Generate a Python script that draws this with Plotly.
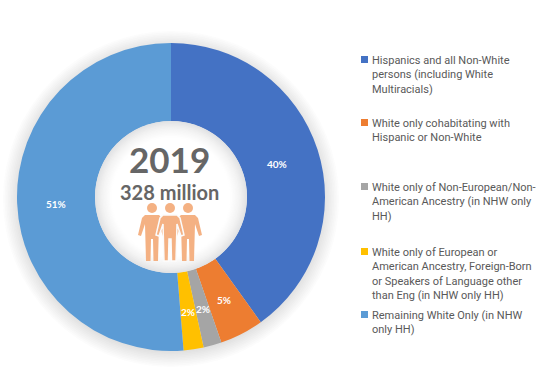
import plotly.graph_objects as go

W, H = 549, 388
categories = [
    "Hispanics and all Non-White persons (including White Multiracials)",
    "White only cohabitating with Hispanic or Non-White",
    "White only of Non-European/Non-American Ancestry (in NHW only HH)",
    "White only of European or American Ancestry, Foreign-Born or Speakers of Language other than Eng (in NHW only HH)",
    "Remaining White Only (in NHW only HH)",
]
values = [40.1, 4.6, 1.9, 2.1, 51.3]
colors = ["#4472C4", "#ED7D31", "#A5A5A5", "#FFC000", "#5B9BD5"]
value_labels = ["40%", "5%", "2%", "2%", "51%"]
legend_lines = [
    "Hispanics and all Non-White<br>persons (including White<br>Multiracials)",
    "White only cohabitating with<br>Hispanic or Non-White",
    "White only of Non-European/Non-<br>American Ancestry (in NHW only<br>HH)",
    "White only of European or<br>American Ancestry, Foreign-Born<br>or Speakers of Language other<br>than Eng (in NHW only HH)",
    "Remaining White Only (in NHW<br>only HH)",
]
legend_first_y = [60, 123, 187, 252, 315]
label_pos = [(277, 164), (224, 300), (203, 309), (188, 312), (56, 204)]

CX, CY, R, HOLE = 171, 197, 154, 76
FONT = "Lato, 'Open Sans', sans-serif"
LEG_FONT = "Roboto, 'Open Sans', sans-serif"
px = lambda x: x / W
py = lambda y: 1 - y / H

fig = go.Figure(go.Pie(
    labels=categories, values=values, hole=HOLE / R, sort=False,
    direction="clockwise", rotation=0, textinfo="none",
    marker=dict(colors=colors, line=dict(width=0)), showlegend=False,
    domain=dict(x=[px(CX - R), px(CX + R)], y=[py(CY + R), py(CY - R)]),
))

shapes, ann = [], []

def circle(cx, cy, r, color, layer="above"):
    shapes.append(dict(type="circle", xref="paper", yref="paper", layer=layer,
                       x0=px(cx - r), x1=px(cx + r), y0=py(cy + r), y1=py(cy - r),
                       fillcolor=color, line=dict(width=0)))

# soft shadow around the ring
for i in range(10):
    circle(CX, CY + 2, R + 14 - i * 1.6, "rgba(110,110,110,0.018)", "below")

# softly shaded hole
for i, c in enumerate(["#e2e3e5", "#e6e7e8", "#eaeaeb", "#eeeeee", "#f1f1f1", "#f4f4f4",
                       "#f6f6f6", "#f8f8f8", "#fafafa", "#fcfcfc", "#fefefe", "#ffffff"]):
    circle(CX, CY, HOLE - i * 1.5, c)

# people icon
BODY = "#F4B183"
def person(cx, top, outline=None):
    circle(cx, top + 5, 5, BODY)
    pts = [(-7, 12), (7, 12), (10, 15), (14, 32), (11, 33), (7, 21), (6, 58), (1.5, 58), (1, 36),
           (-1, 36), (-1.5, 58), (-6, 58), (-7, 21), (-11, 33), (-14, 32), (-10, 15)]
    d = "M " + " L ".join(f"{px(cx + x):.5f},{py(top + y):.5f}" for x, y in pts) + " Z"
    shapes.append(dict(type="path", xref="paper", yref="paper", path=d, fillcolor=BODY,
                       line=dict(width=1.5 if outline else 0, color=outline or BODY), layer="above"))

person(152, 203)
person(188, 203)
person(170, 203, outline="#fbfbfb")

ann.append(dict(x=px(CX - 2), y=py(159), text="<b>2019</b>", font=dict(size=35, color="#666666", family=FONT)))
ann.append(dict(x=px(CX - 2), y=py(192), text="<b>328 million</b>", font=dict(size=20, color="#666666", family=FONT)))

for t, (x, y) in zip(value_labels, label_pos):
    ann.append(dict(x=px(x), y=py(y), text=f"<b>{t}</b>", font=dict(size=10, color="white", family=FONT)))

for t, y, c in zip(legend_lines, legend_first_y, colors):
    ann.append(dict(x=px(370), y=py(y - 8), text=t, align="left", xanchor="left", yanchor="top",
                    font=dict(size=11, color="#595959", family=LEG_FONT)))
    shapes.append(dict(type="rect", xref="paper", yref="paper", x0=px(361), x1=px(368),
                       y0=py(y + 3), y1=py(y - 4), fillcolor=c, line=dict(width=0)))

for a in ann:
    a.update(xref="paper", yref="paper", showarrow=False)
    a.setdefault("xanchor", "center")
    a.setdefault("yanchor", "middle")

fig.update_layout(width=W, height=H, margin=dict(l=0, r=0, t=0, b=0),
                  paper_bgcolor="white", shapes=shapes, annotations=ann)
fig.write_html("out.html", config=dict(displayModeBar=False),
               post_script="document.body.style.margin='0';document.body.style.overflow='hidden';")
